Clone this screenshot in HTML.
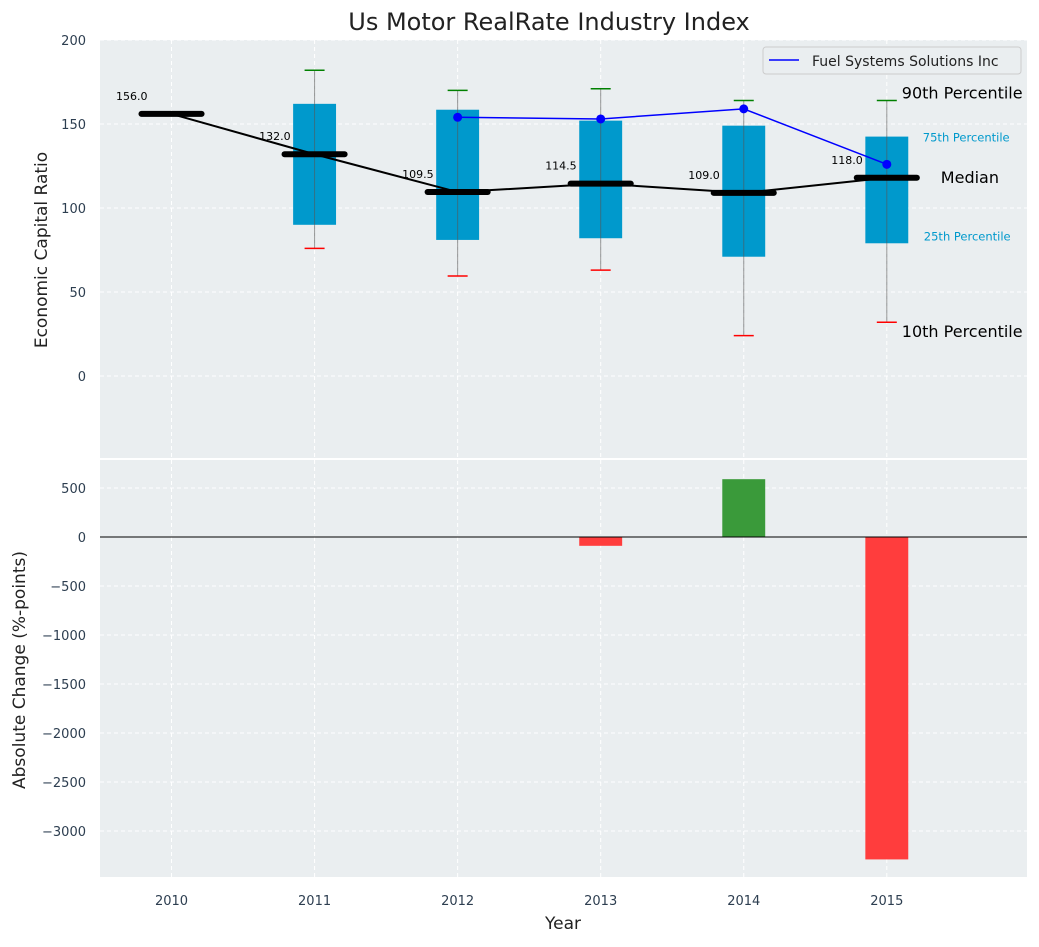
<!DOCTYPE html>
<html><head><meta charset="utf-8"><style>
body{margin:0;background:#fff;font-family:"Liberation Sans","DejaVu Sans",sans-serif}
</style></head><body>
<svg id="c" width="1039" height="942" xmlns="http://www.w3.org/2000/svg" font-family="DejaVu Sans, Liberation Sans, sans-serif"></svg>
<script>
const years=[2010,2011,2012,2013,2014,2015];
const medians=[156,132,109.5,114.5,109,118];
const q1=[null,90,81,82,71,79];
const q3=[null,162,158.5,152,149,142.5];
const p10=[null,76,59.5,63,24,32];
const p90=[null,182,170,171,164,164];
const companyYears=[2012,2013,2014,2015];
const companyVals=[154,153,159,126];
const changes=[null,null,null,-90,590,-3290];
const topTicks=[0,50,100,150,200];
const botTicks=[500,0,-500,-1000,-1500,-2000,-2500,-3000];

const svg=document.getElementById('c');
const NS='http://www.w3.org/2000/svg';
function el(t,a,txt){const e=document.createElementNS(NS,t);for(const k in a)e.setAttribute(k,a[k]);if(txt!==undefined)e.textContent=txt;svg.appendChild(e);return e;}
const L=100,R=1027;
const X=v=>L+(v-2009.5)*(R-L)/(2015.98-2009.5);
const T0=40,T1=458,Y=v=>376-v*1.68;
const B0=460,B1=877,Y2=v=>537-v*0.098;

let r=el('rect',{x:L,y:T0,width:R-L,height:T1-T0,fill:'#eaeef0'});

r=el('rect',{x:L,y:B0,width:R-L,height:B1-B0,fill:'#eaeef0'});


years.forEach(y=>{
 el('line',{x1:X(y),x2:X(y),y1:T0,y2:T1,stroke:'#fff','stroke-dasharray':'4,3','stroke-width':1});
 el('line',{x1:X(y),x2:X(y),y1:B0,y2:B1,stroke:'#fff','stroke-dasharray':'4,3','stroke-width':1});
 const t=el('text',{x:X(y),y:905,'text-anchor':'middle','font-size':13,fill:'#2d3e50'},y);
 
});
topTicks.forEach(v=>{
 el('line',{x1:L,x2:R,y1:Y(v),y2:Y(v),stroke:'#fff','stroke-dasharray':'4,3'});
 const t=el('text',{x:86,y:Y(v)+5,'text-anchor':'end','font-size':13,fill:'#2d3e50'},v);
 
});
botTicks.forEach(v=>{
 el('line',{x1:L,x2:R,y1:Y2(v),y2:Y2(v),stroke:'#fff','stroke-dasharray':'4,3'});
 const t=el('text',{x:86,y:Y2(v)+5,'text-anchor':'end','font-size':13,fill:'#2d3e50'},String(v).replace('-','\u2212'));
 
});

const bw=0.3*(R-L)/6.48;
years.forEach((y,i)=>{
 if(q1[i]===null)return;
 const cx=X(y);
 const b=el('rect',{x:cx-bw/2,y:Y(q3[i]),width:bw,height:Y(q1[i])-Y(q3[i]),fill:'#0099cc'});
 
 el('line',{x1:cx,x2:cx,y1:Y(p90[i]),y2:Y(p10[i]),stroke:'#555','stroke-opacity':0.6,'stroke-width':1});
 const c1=el('line',{x1:cx-10,x2:cx+10,y1:Y(p90[i]),y2:Y(p90[i]),stroke:'green','stroke-width':1.5});
 
 const c2=el('line',{x1:cx-10,x2:cx+10,y1:Y(p10[i]),y2:Y(p10[i]),stroke:'red','stroke-width':1.5});
 
});
let pts=years.map((y,i)=>X(y)+','+Y(medians[i])).join(' ');
let ml=el('polyline',{points:pts,fill:'none',stroke:'#000','stroke-width':2});

const mw=0.42*(R-L)/6.48;
years.forEach((y,i)=>{
 const cx=X(y);
 const m=el('line',{x1:cx-mw/2,x2:cx+mw/2,y1:Y(medians[i]),y2:Y(medians[i]),stroke:'#000','stroke-width':6,'stroke-linecap':'round'});
 
 const t=el('text',{x:cx-24,y:Y(medians[i])-14,'text-anchor':'end','font-size':11,fill:'#000'},medians[i].toFixed(1));
 
});
pts=companyYears.map((y,i)=>X(y)+','+Y(companyVals[i])).join(' ');
ml=el('polyline',{points:pts,fill:'none',stroke:'blue','stroke-width':1.5});

companyYears.forEach((y,i)=>{
 const d=el('circle',{cx:X(y),cy:Y(companyVals[i]),r:4.5,fill:'blue'});
 
});
const lx=X(2015);
[['90th Percentile',lx+15,Y(p90[5])-2,16,'#000'],['75th Percentile',lx+36,Y(q3[5])+5,11.5,'#0099cc'],['Median',lx+54,Y(medians[5])+5,16,'#000'],['25th Percentile',lx+37,Y(q1[5])-3,11.5,'#0099cc'],['10th Percentile',lx+15,Y(p10[5])+15,16,'#000']].forEach(a=>{
 const t=el('text',{x:a[1],y:a[2],'font-size':a[3],fill:a[4]},a[0]);
 
});
const lg=el('rect',{x:763,y:47,width:258,height:27,fill:'#eaeef0',stroke:'#ccc',rx:3});

el('line',{x1:769,x2:799,y1:60,y2:60,stroke:'blue','stroke-width':1.5});
let t=el('text',{x:812,y:66,'font-size':14,fill:'#222'},'Fuel Systems Solutions Inc');


years.forEach((y,i)=>{
 if(changes[i]===null)return;
 const v=changes[i];
 const b=el('rect',{x:X(y)-bw/2,y:Math.min(Y2(v),Y2(0)),width:bw,height:Math.abs(Y2(v)-Y2(0)),fill:v>=0?'#3a9a3a':'#ff3d3d'});
 
});
el('line',{x1:L,x2:R,y1:Y2(0),y2:Y2(0),stroke:'#000','stroke-width':1});

t=el('text',{x:549,y:30,'text-anchor':'middle','font-size':24,fill:'#222'},'Us Motor RealRate Industry Index');

t=el('text',{x:0,y:0,'text-anchor':'middle','font-size':17,fill:'#222',transform:'translate(47,250) rotate(-90)'},'Economic Capital Ratio');

t=el('text',{x:0,y:0,'text-anchor':'middle','font-size':17,fill:'#222',transform:'translate(25,670) rotate(-90)'},'Absolute Change (%-points)');

t=el('text',{x:563,y:929,'text-anchor':'middle','font-size':17,fill:'#222'},'Year');

</script>
</body></html>
